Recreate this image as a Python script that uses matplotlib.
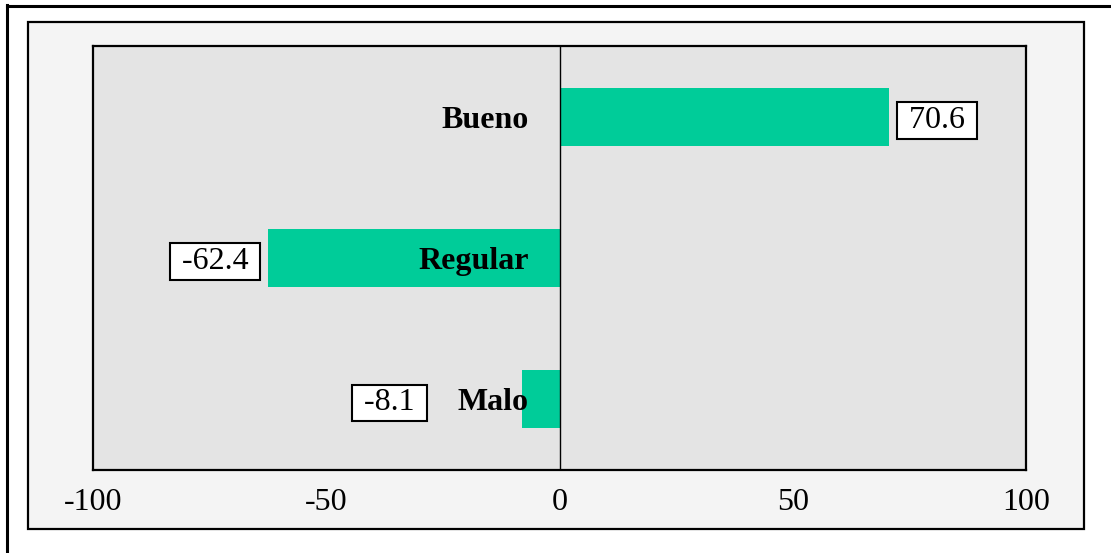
import matplotlib
matplotlib.use("Agg")
from matplotlib import pyplot as plt
from matplotlib.patches import Rectangle
from matplotlib.lines import Line2D
import numpy as np

# datos
categorias = ["Malo", "Regular", "Bueno"]
valores = [-8.1, -62.4, 70.6]
ticks_x = [-100, -50, 0, 50, 100]

# desplazamiento (px) de cada etiqueta de valor respecto al extremo de la barra
offset_etiquetas = {"Malo": -99, "Regular": -12, "Bueno": 12}

color_barra = "#00CC99"
fuente = "Liberation Serif"
tam = 23

W, H = 1111, 553
fig = plt.figure(figsize=(W / 100, H / 100), dpi=100, facecolor="white")

# marco exterior (solo izquierda y arriba)
fig.add_artist(Line2D([7 / W, 7 / W], [0, 1 - 5 / H], transform=fig.transFigure,
                      color="black", lw=2.2))
fig.add_artist(Line2D([7 / W, 1], [1 - 5.5 / H, 1 - 5.5 / H], transform=fig.transFigure,
                      color="black", lw=2.2))

# area del grafico
fig.add_artist(Rectangle((28 / W, 1 - 529 / H), (1084 - 28) / W, (529 - 22) / H,
                         transform=fig.transFigure, facecolor="#f4f4f4",
                         edgecolor="black", lw=1.6, zorder=0))

ax = fig.add_axes([93 / W, 1 - 470 / H, (1026 - 93) / W, (470 - 46) / H])
ax.set_facecolor("#e4e4e4")

y = np.arange(len(categorias))
ax.barh(y, valores, height=0.41, color=color_barra, zorder=2)
ax.axvline(0, color="black", lw=1.0, zorder=3)

ax.set_xlim(-100, 100)
ax.set_ylim(-0.5, len(categorias) - 0.5)
ax.set_xticks(ticks_x)
ax.set_xticklabels([str(t) for t in ticks_x], fontfamily=fuente, fontsize=tam)
ax.set_yticks([])
ax.tick_params(axis="x", length=0, pad=13)
for s in ax.spines.values():
    s.set_linewidth(1.6)
    s.set_color("black")

for yi, cat, v in zip(y, categorias, valores):
    # nombre de la categoria junto al eje
    ax.annotate(cat, xy=(0, yi), xytext=(-31, 0), textcoords="offset pixels",
                ha="right", va="center_baseline", fontfamily=fuente, fontsize=tam,
                fontweight="bold", zorder=4)
    # valor en recuadro
    dx = offset_etiquetas[cat]
    ax.annotate(" " + f"{v:.1f}" + " ", xy=(v, yi), xytext=(dx, 0),
                textcoords="offset pixels", ha="left" if v > 0 else "right",
                va="center_baseline", fontfamily=fuente, fontsize=tam, zorder=4,
                bbox=dict(boxstyle="square,pad=0.12", fc="white", ec="black", lw=1.5))

fig.savefig("out.png", dpi=100)
